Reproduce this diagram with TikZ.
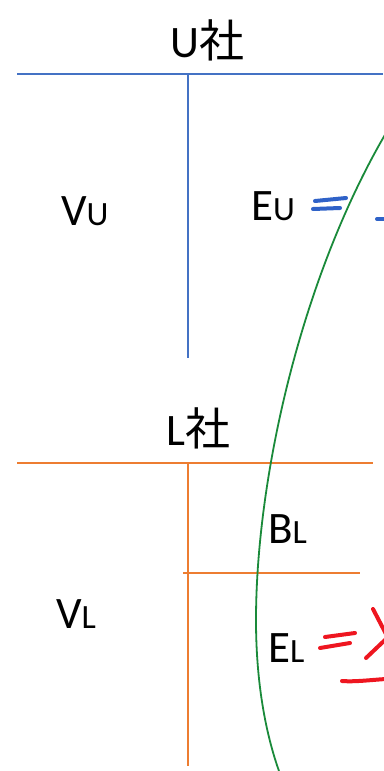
\documentclass[tikz,border=0pt]{standalone}
\usepackage{fontspec}
\setmainfont{Carlito}
\newfontfamily\cjk{Noto Sans CJK JP}
\usepackage{tikz}
\usetikzlibrary{positioning}
\definecolor{LineBlue}{HTML}{4472C4}
\definecolor{LineOrange}{HTML}{ED7D31}
\definecolor{CurveGreen}{HTML}{1A8A3A}
\definecolor{PenBlue}{HTML}{2F62C8}
\definecolor{PenRed}{HTML}{EE1620}
\newcommand{\idx}[1]{{\fontsize{34}{38}\selectfont #1}}

\begin{document}
\begin{tikzpicture}[x=1pt, y=-1pt,
    lbl/.style={anchor=base west, inner sep=0pt, font=\fontsize{45}{50}\selectfont},
    upper/.style={draw=LineBlue, line width=1.3pt},
    lower/.style={draw=LineOrange, line width=1.3pt},
    pen/.style={line width=4pt, line cap=round}
  ]
    \useasboundingbox (0,0) rectangle (383,771);

    % U company
    \draw[upper] (17,74) -- (383,74);
    \draw[upper] (188,74) -- (188,358);
    \node[lbl] (ucorp) at (170,57) {U{\cjk 社}};
    \node[lbl] (vu) at (61,225) {V\idx{U}};
    \node[lbl] (eu) at (251,220) {E\idx{U}};

    % L company
    \draw[lower] (17,463) -- (373,463);
    \draw[lower] (188,463) -- (188,766);
    \draw[lower] (183,573) -- (360,573);
    \node[lbl] (lcorp) at (166,445) {L{\cjk 社}};
    \node[lbl] (bl) at (268,543) {B\idx{L}};
    \node[lbl] (vl) at (56,628) {V\idx{L}};
    \node[lbl] (el) at (268,662) {E\idx{L}};

    % boundary
    \draw[CurveGreen, line width=1.8pt] (386,133)
      .. controls (300,280) and (256,480) .. (256,620)
      .. controls (256,690) and (268,740) .. (279,771);

    % hand marks
    \draw[pen, PenBlue] (315,201) -- (346,198);
    \draw[pen, PenBlue] (313,209) -- (340,208);
    \draw[pen, PenBlue] (377,219) -- (386,219);
    \draw[pen, PenRed] (325,637) -- (355,633);
    \draw[pen, PenRed] (320,648) -- (350,643);
    \draw[pen, PenRed] (373,609) -- (386,634);
    \draw[pen, PenRed] (386,639) -- (366,658);
    \draw[pen, PenRed] (342,681) .. controls (355,682) and (370,680) .. (386,679);
  \end{tikzpicture}
\end{document}
